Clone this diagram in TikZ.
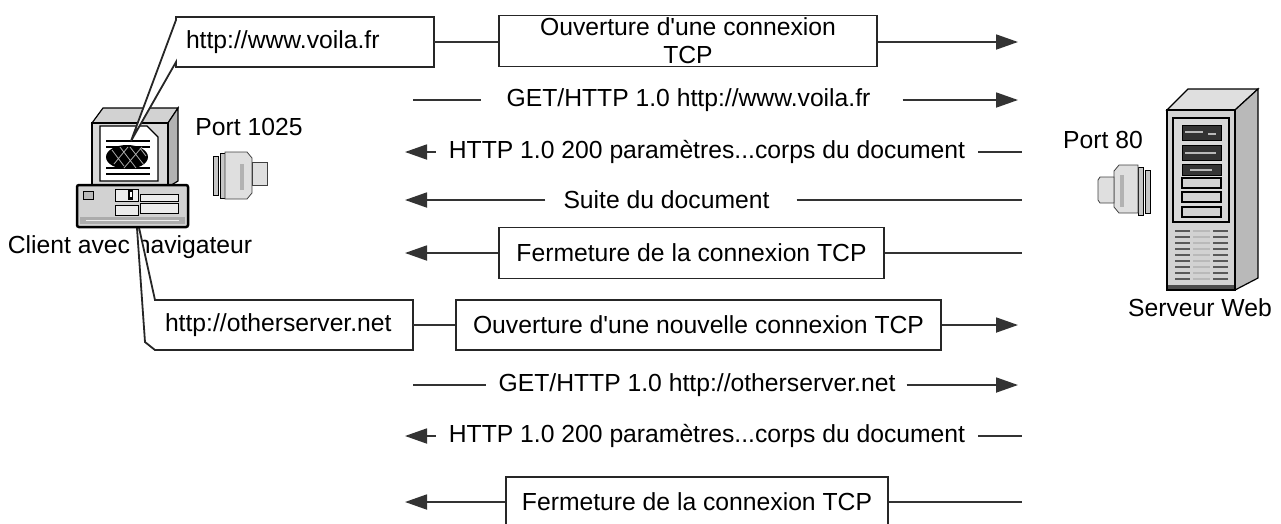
\documentclass[tikz,border=0pt]{standalone}
\usepackage{fontspec}
\setmainfont{Liberation Sans}
\usetikzlibrary{arrows.meta}
\begin{document}
\begin{tikzpicture}[x=1pt,y=-1pt,
  lbl/.style={font=\fontsize{24.7}{28}\selectfont, inner sep=0pt},
  link/.style={line width=1.8pt, draw=black!80},
  arr/.style={link, -{Triangle[length=22pt,width=15pt]}},
  msgbox/.style={draw=black!85, line width=1.8pt, fill=white,
    font=\fontsize{24.7}{28}\selectfont, inner sep=0pt, align=center},
  urlbox/.style={lbl, minimum width=258pt, minimum height=50pt,
    text width=238pt, inner xsep=10pt, align=left},
  callout/.style={draw=black!85, line width=1.8pt, fill=white, line join=miter},
  dev/.style={draw=black, line width=1.2pt},
]
\useasboundingbox (0,0) rectangle (1281,523);

% x positions where the message lines start and end
\coordinate (cliend) at (405,0);
\coordinate (cliline) at (413,0);
\coordinate (srvend) at (1018,0);
\coordinate (srvline) at (1022,0);

% ---------------- client label and second callout (under the PC)
\node[lbl] (client) at (130,247) {Client avec navigateur};
\coordinate (tip2) at (136,214);
\path[callout] (413,300) -- (155,300) -- (tip2) -- (145,342) -- (155,350)
  -- (413,350) -- cycle;

% ---------------- client computer
% monitor
\filldraw[gray!35, dev] (92,123) -- (103,108) -- (178,108) -- (168,123) -- cycle;
\filldraw[gray!60, dev] (168,123) -- (178,108) -- (178,181) -- (168,187) -- cycle;
\filldraw[gray!30, draw=black, line width=2pt] (92,123) rectangle (168,187);
\filldraw[white, draw=black, line width=1.2pt] (100,126) -- (147,126) -- (158,137)
  -- (158,181) -- (100,181) -- cycle;
\draw[black, line width=1.4pt] (106,141) -- (150,141) (106,147) -- (150,147)
  (106,168) -- (150,168) (106,174) -- (150,174);
\fill[black] (127,157) ellipse [x radius=21, y radius=12];
\draw[gray!65, line width=0.8pt] (112,150) -- (124,166) (120,147) -- (136,168)
  (130,147) -- (144,165) (140,148) -- (146,156) (114,164) -- (128,147)
  (124,168) -- (142,147);
% system unit
\filldraw[gray!35, draw=black, line width=2.5pt, rounded corners=2pt]
  (77,185) rectangle (188,227);
\fill[gray!65] (80,217) rectangle (185,224);
\draw[gray!15, line width=1pt] (86,220.5) -- (179,220.5);
\filldraw[gray!55, draw=black, line width=0.8pt] (83,191) rectangle (93,199);
\filldraw[gray!15, draw=black, line width=1pt] (115,189) rectangle (138,201);
\fill[black] (128,190) rectangle (133,200);
\fill[white] (129.5,192) rectangle (131.5,197);
\filldraw[gray!15, draw=black, line width=1pt] (140,194) rectangle (178,201);
\filldraw[gray!15, draw=black, line width=1pt] (115,205) rectangle (138,215);
\filldraw[gray!15, draw=black, line width=1pt] (140,203) rectangle (178,213);

% client port plug
\filldraw[gray!45, draw=black, line width=0.8pt] (213,156) rectangle (218,195);
\filldraw[gray!45, draw=black, line width=0.8pt] (220,153) rectangle (225,198);
\filldraw[gray!25, draw=gray!50!black, line width=0.8pt]
  (225,152) -- (247,152) -- (252,158) -- (252,193) -- (247,199) -- (225,199) -- cycle;
\filldraw[gray!25, draw=gray!50!black, line width=0.8pt]
  (252,162) -- (267,162) -- (267,185) -- (252,185) -- cycle;
\fill[gray!60] (240,164) rectangle (244,190);

\node[lbl] (port1) at (249,127) {Port 1025};

% ---------------- first callout (over the screen)
\coordinate (tip1) at (131,141);
\path[callout] (434,17) -- (176,17) -- (176,20) -- (tip1) -- (176,62)
  -- (176,67) -- (434,67) -- cycle;
\node[urlbox] (url1) at (305,42) {http://www.voila.fr};
\node[urlbox] (url2) at (284,325) {http://otherserver.net};

% ---------------- web server
\filldraw[gray!25, dev] (1167,110) -- (1188,89) -- (1258,89) -- (1235,110) -- cycle;
\filldraw[gray!55, dev] (1235,110) -- (1258,89) -- (1258,278) -- (1235,290) -- cycle;
\filldraw[gray!35, draw=black, line width=2.2pt] (1167,110) rectangle (1235,290);
\filldraw[gray!30, draw=black, line width=2pt] (1173,118) rectangle (1229,222);
\foreach \ya/\yb in {125/140, 145/160, 164/175}{
  \filldraw[black!80, draw=black, line width=1pt] (1182,\ya) rectangle (1221,\yb);
}
\draw[gray!55, line width=2pt] (1185,132) -- (1203,132) (1208,134) -- (1216,134)
  (1185,153) -- (1216,153) (1190,170) -- (1212,170);
\foreach \ya/\yb in {178/188, 192/202, 207/217}{
  \filldraw[gray!35, draw=black, line width=1.4pt] (1182,\ya) rectangle (1221,\yb);
}
\foreach \y in {231,237,...,283}{
  \draw[gray!70!black, line width=1.6pt] (1175,\y) -- (1190,\y) (1213,\y) -- (1228,\y);
  \draw[gray!55, line width=1.2pt] (1193,\y) -- (1210,\y);
}
\fill[gray!60!black] (1168,285) rectangle (1234,289);

% server port plug
\filldraw[gray!45, draw=black, line width=0.8pt] (1145,170) rectangle (1150,213);
\filldraw[gray!45, draw=black, line width=0.8pt] (1138,167) rectangle (1143,215);
\filldraw[gray!25, draw=gray!50!black, line width=0.8pt]
  (1138,165) -- (1119,165) -- (1114,171) -- (1114,207) -- (1119,213) -- (1138,213) -- cycle;
\filldraw[gray!25, draw=gray!50!black, line width=0.8pt]
  (1114,177) -- (1100,177) -- (1098,180) -- (1098,200) -- (1100,203) -- (1114,203) -- cycle;
\fill[gray!60] (1120,175) rectangle (1124,207);

\node[lbl] (port2) at (1103,140) {Port 80};
\node[lbl] (server) at (1200,308) {Serveur Web};

% ---------------- exchange with www.voila.fr
\node[msgbox, minimum width=378pt, minimum height=51pt] (open1) at (688,41)
  {Ouverture d\textquotesingle une connexion\\TCP};
\draw[link] (url1.east) -- (url1.east -| open1.west);
\draw[arr] (open1.east |- url1.east) -- (url1.east -| srvend);

\node[lbl] (get1) at (688.5,100) {GET/HTTP 1.0 http://www.voila.fr};
\draw[link, shorten >=25pt] (get1.west -| cliline) -- (get1.west);
\draw[arr, shorten <=32pt] (get1.east) -- (get1.east -| srvend);

\node[lbl] (resp1) at (707,152) {HTTP 1.0 200 paramètres...corps du document};
\draw[arr, shorten <=13pt] (resp1.west) -- (resp1.west -| cliend);
\draw[link, shorten <=13pt] (resp1.east) -- (resp1.east -| srvline);

\node[lbl] (suite) at (666.5,200) {Suite du document};
\draw[arr, shorten <=18pt] (suite.west) -- (suite.west -| cliend);
\draw[link, shorten <=27pt] (suite.east) -- (suite.east -| srvline);

\node[msgbox, minimum width=385pt, minimum height=51pt] (close1) at (691.5,253)
  {Fermeture de la connexion TCP};
\draw[arr] (close1.west) -- (close1.west -| cliend);
\draw[link] (close1.east) -- (close1.east -| srvline);

% ---------------- exchange with otherserver.net
\node[msgbox, minimum width=485pt, minimum height=50pt] (open2) at (698.5,325)
  {Ouverture d\textquotesingle une nouvelle connexion TCP};
\draw[link] (url2.east) -- (url2.east -| open2.west);
\draw[arr] (open2.east) -- (open2.east -| srvend);

\node[lbl] (get2) at (697,385) {GET/HTTP 1.0 http://otherserver.net};
\draw[link, shorten >=12pt] (get2.west -| cliline) -- (get2.west);
\draw[arr, shorten <=11pt] (get2.east) -- (get2.east -| srvend);

\node[lbl] (resp2) at (707,436) {HTTP 1.0 200 paramètres...corps du document};
\draw[arr, shorten <=13pt] (resp2.west) -- (resp2.west -| cliend);
\draw[link, shorten <=13pt] (resp2.east) -- (resp2.east -| srvline);

\node[msgbox, minimum width=382pt, minimum height=50pt] (close2) at (697,502)
  {Fermeture de la connexion TCP};
\draw[arr] (close2.west) -- (close2.west -| cliend);
\draw[link] (close2.east) -- (close2.east -| srvline);
\end{tikzpicture}
\end{document}
